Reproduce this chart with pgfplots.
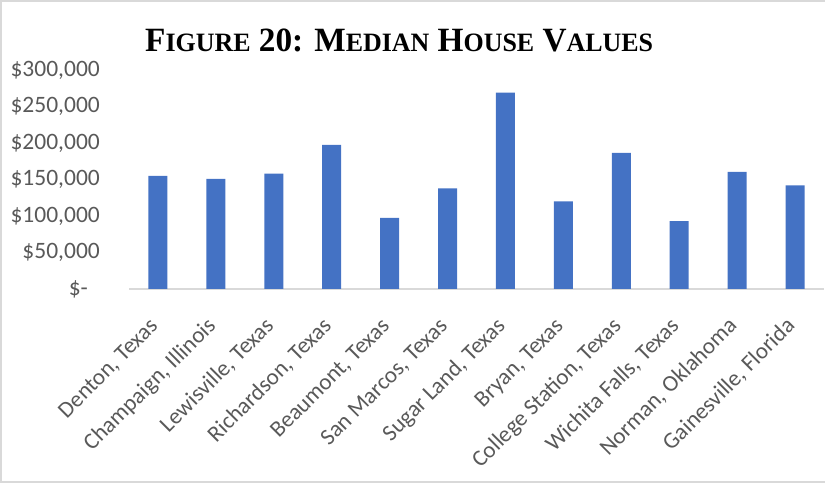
\documentclass[border=0pt]{standalone}
\usepackage{pgfplots}
\pgfplotsset{compat=1.18}
\usepackage{fontspec}
\setmainfont{Carlito}
\newfontfamily\titlefont{Liberation Serif}
\definecolor{barblue}{HTML}{4472C4}
\definecolor{lbl}{HTML}{595959}
\definecolor{framegray}{HTML}{D9D9D9}
\newcommand\SC[1]{{\fontsize{26.5bp}{26.5bp}\selectfont #1}}
\begin{document}
\begin{tikzpicture}
\useasboundingbox (0,0) rectangle (825bp,483bp);
\draw[framegray, line width=2bp] (826bp,482bp) -- (1bp,482bp) -- (1bp,1bp) -- (826bp,1bp);
\node[anchor=base west, inner sep=0pt] at (145bp,431bp)
  {\scalebox{0.979}[1]{\titlefont\bfseries\fontsize{34bp}{34bp}\selectfont F\SC{IGURE} 20: M\SC{EDIAN} H\SC{OUSE} V\SC{ALUES}}};
\begin{axis}[
  at={(129bp,194bp)}, anchor=south west,
  scale only axis, width=695bp, height=219bp,
  ymin=0, ymax=300000, xmin=-0.5, xmax=11.5,
  axis x line*=bottom, axis y line*=left,
  y axis line style={draw=none},
  x axis line style={draw=framegray, line width=2bp},
  major tick length=0pt,
  ytick={0,50000,100000,150000,200000,250000,300000},
  yticklabels={{\$-\hphantom{0}},{\$50,000},{\$100,000},{\$150,000},{\$200,000},{\$250,000},{\$300,000}},
  yticklabel style={anchor=east, inner sep=0pt, xshift=-29bp, font=\fontsize{23.5bp}{23.5bp}\selectfont, text=lbl},
  xtick=data,
  xticklabels={{Denton, Texas},{Champaign, Illinois},{Lewisville, Texas},{Richardson, Texas},{Beaumont, Texas},{San Marcos, Texas},{Sugar Land, Texas},{Bryan, Texas},{College Station, Texas},{Wichita Falls, Texas},{Norman, Oklahoma},{Gainesville, Florida}},
  xticklabel style={xshift=1bp, yshift=-38bp, rotate=45, anchor=base east, inner sep=0pt, font=\fontsize{23bp}{23bp}\selectfont, text=lbl},
  scaled y ticks=false,
]
\addplot[ybar, bar width=19bp, fill=barblue, draw=none] coordinates {
  (0,155000) (1,151000) (2,158000) (3,197500) (4,97500) (5,137700)
  (6,269000) (7,120000) (8,186500) (9,93000) (10,160500) (11,141800)
};
\end{axis}
\end{tikzpicture}
\end{document}
